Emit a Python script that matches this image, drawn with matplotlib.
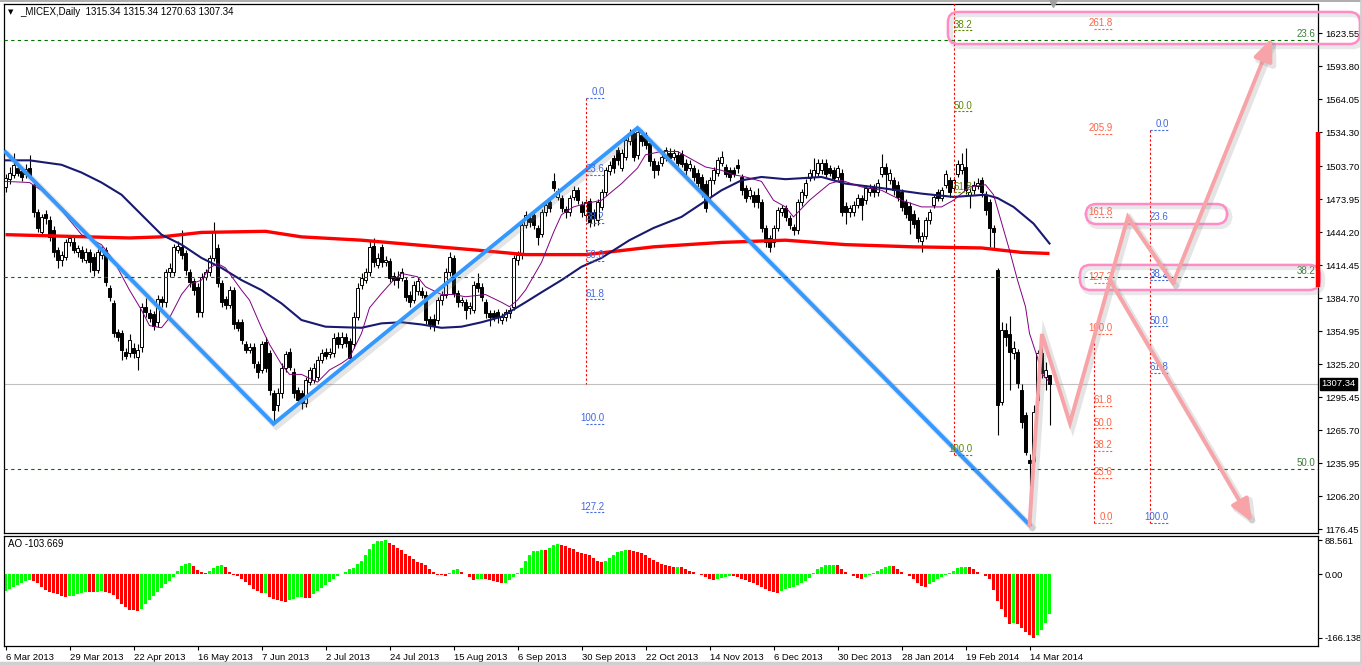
import numpy as np
import matplotlib.pyplot as plt
import matplotlib.patheffects as pe
from matplotlib.patches import FancyBboxPatch
from matplotlib.lines import Line2D
from matplotlib.transforms import blended_transform_factory

plt.rcParams['font.family'] = ['Liberation Sans', 'DejaVu Sans']

# ---- daily candles, _MICEX, 6 Mar 2013 .. 21 Mar 2014 ----
opens = [1485, 1492, 1496, 1502, 1499, 1497, 1502, 1487, 1462, 1444,
         1461, 1455, 1446, 1428, 1419, 1422, 1435, 1435, 1426, 1428,
         1419, 1426, 1422, 1410, 1424, 1428, 1394, 1380, 1354, 1353,
         1336, 1335, 1340, 1332, 1341, 1377, 1371, 1370, 1363, 1384,
         1381, 1408, 1408, 1428, 1431, 1425, 1408, 1400, 1395, 1372,
         1404, 1408, 1421, 1430, 1398, 1384, 1379, 1392, 1363, 1363,
         1343, 1338, 1341, 1325, 1320, 1345, 1335, 1299, 1288, 1299,
         1322, 1336, 1318, 1302, 1299, 1290, 1309, 1311, 1314, 1329,
         1336, 1334, 1335, 1350, 1343, 1350, 1346, 1343, 1368, 1397,
         1401, 1408, 1432, 1415, 1431, 1417, 1418, 1405, 1404, 1403,
         1401, 1388, 1383, 1391, 1391, 1388, 1366, 1366, 1365, 1383,
         1388, 1408, 1421, 1389, 1381, 1381, 1376, 1374, 1398, 1395,
         1381, 1371, 1371, 1372, 1365, 1368, 1371, 1377, 1419, 1424,
         1451, 1457, 1460, 1448, 1443, 1462, 1471, 1490, 1476, 1475,
         1465, 1462, 1476, 1482, 1469, 1460, 1472, 1462, 1455, 1467,
         1480, 1499, 1511, 1518, 1502, 1512, 1526, 1534, 1514, 1532,
         1532, 1525, 1508, 1505, 1507, 1511, 1516, 1512, 1514, 1515,
         1507, 1502, 1502, 1498, 1494, 1488, 1476, 1491, 1498, 1507,
         1503, 1500, 1500, 1505, 1494, 1484, 1477, 1478, 1478, 1471,
         1448, 1439, 1435, 1448, 1462, 1466, 1457, 1449, 1446, 1471,
         1478, 1493, 1494, 1498, 1500, 1507, 1502, 1500, 1494, 1498,
         1468, 1462, 1462, 1469, 1475, 1473, 1480, 1484, 1480, 1497,
         1503, 1491, 1491, 1487, 1480, 1471, 1468, 1461, 1455, 1436,
         1441, 1455, 1469, 1480, 1475, 1487, 1491, 1484, 1497, 1500,
         1503, 1478, 1482, 1486, 1491, 1478, 1471, 1448, 1410, 1291,
         1356, 1352, 1335, 1336, 1302, 1279, 1239, 1238, 1293, 1335,
         1314, 1315.34]
highs = [1497, 1503, 1516, 1507, 1503, 1506, 1514, 1490, 1465, 1461,
         1464, 1459, 1450, 1431, 1427, 1438, 1442, 1440, 1433, 1432,
         1430, 1429, 1425, 1429, 1432, 1431, 1397, 1383, 1357, 1356,
         1340, 1352, 1344, 1343, 1380, 1385, 1375, 1373, 1388, 1387,
         1411, 1416, 1434, 1436, 1446, 1428, 1411, 1403, 1398, 1407,
         1411, 1424, 1453, 1434, 1401, 1387, 1396, 1395, 1366, 1366,
         1346, 1344, 1344, 1328, 1346, 1350, 1338, 1302, 1304, 1326,
         1337, 1340, 1322, 1305, 1302, 1314, 1323, 1326, 1333, 1339,
         1340, 1340, 1353, 1354, 1354, 1353, 1349, 1372, 1398, 1407,
         1412, 1437, 1439, 1425, 1434, 1423, 1421, 1408, 1409, 1412,
         1404, 1391, 1400, 1404, 1395, 1391, 1369, 1370, 1386, 1391,
         1412, 1426, 1424, 1392, 1386, 1384, 1381, 1400, 1407, 1398,
         1384, 1374, 1374, 1375, 1371, 1375, 1377, 1424, 1427, 1454,
         1463, 1461, 1463, 1451, 1465, 1472, 1475, 1498, 1484, 1478,
         1468, 1478, 1486, 1485, 1472, 1474, 1475, 1465, 1474, 1483,
         1503, 1508, 1514, 1521, 1519, 1530, 1537, 1537, 1539, 1536,
         1535, 1528, 1511, 1508, 1515, 1521, 1520, 1519, 1517, 1518,
         1510, 1509, 1505, 1501, 1497, 1491, 1494, 1503, 1512, 1517,
         1506, 1503, 1503, 1510, 1497, 1487, 1485, 1481, 1484, 1474,
         1451, 1442, 1451, 1467, 1469, 1469, 1460, 1452, 1474, 1483,
         1492, 1501, 1511, 1510, 1510, 1510, 1505, 1503, 1505, 1501,
         1471, 1469, 1472, 1479, 1478, 1487, 1488, 1488, 1492, 1515,
         1507, 1501, 1494, 1490, 1483, 1474, 1471, 1464, 1458, 1444,
         1458, 1465, 1479, 1483, 1485, 1500, 1494, 1494, 1509, 1516,
         1520, 1484, 1490, 1493, 1494, 1481, 1474, 1451, 1412, 1363,
         1362, 1369, 1346, 1339, 1307, 1282, 1244, 1288, 1338, 1345,
         1327, 1315.34]
lows = [1480, 1488, 1493, 1495, 1490, 1493, 1492, 1458, 1444, 1441,
        1452, 1436, 1422, 1412, 1414, 1419, 1432, 1425, 1422, 1417,
        1416, 1408, 1405, 1407, 1420, 1396, 1382, 1350, 1346, 1329,
        1330, 1332, 1331, 1320, 1336, 1368, 1363, 1356, 1359, 1377,
        1377, 1404, 1405, 1425, 1420, 1406, 1395, 1388, 1368, 1368,
        1401, 1405, 1418, 1395, 1377, 1375, 1376, 1357, 1355, 1343,
        1335, 1335, 1322, 1313, 1317, 1318, 1297, 1271, 1283, 1295,
        1318, 1320, 1295, 1289, 1285, 1287, 1306, 1308, 1311, 1326,
        1330, 1331, 1332, 1340, 1340, 1341, 1327, 1340, 1365, 1393,
        1398, 1405, 1413, 1412, 1413, 1414, 1399, 1397, 1394, 1400,
        1382, 1377, 1380, 1388, 1385, 1361, 1357, 1355, 1361, 1379,
        1385, 1405, 1386, 1377, 1378, 1366, 1370, 1371, 1390, 1382,
        1367, 1360, 1364, 1362, 1361, 1364, 1367, 1374, 1415, 1420,
        1448, 1449, 1447, 1433, 1440, 1459, 1462, 1481, 1473, 1462,
        1457, 1459, 1473, 1470, 1458, 1454, 1449, 1450, 1451, 1464,
        1477, 1496, 1498, 1505, 1499, 1509, 1523, 1508, 1510, 1522,
        1519, 1504, 1493, 1496, 1504, 1508, 1508, 1509, 1504, 1503,
        1496, 1499, 1490, 1485, 1476, 1462, 1472, 1488, 1495, 1504,
        1494, 1490, 1494, 1498, 1478, 1471, 1474, 1467, 1466, 1444,
        1431, 1426, 1431, 1445, 1459, 1454, 1447, 1442, 1443, 1468,
        1475, 1490, 1491, 1495, 1497, 1494, 1495, 1490, 1491, 1459,
        1452, 1458, 1459, 1466, 1455, 1470, 1477, 1476, 1477, 1494,
        1480, 1488, 1478, 1472, 1463, 1457, 1443, 1448, 1435, 1426,
        1438, 1452, 1466, 1472, 1472, 1484, 1476, 1481, 1494, 1497,
        1479, 1466, 1479, 1483, 1476, 1460, 1431, 1428, 1261, 1288,
        1342, 1302, 1330, 1304, 1268, 1243, 1180, 1235, 1289, 1313,
        1302, 1270.63]
closes = [1493, 1498, 1505, 1498, 1494, 1501, 1496, 1462, 1448, 1458,
          1457, 1440, 1426, 1419, 1424, 1435, 1439, 1428, 1430, 1421,
          1426, 1417, 1410, 1426, 1428, 1399, 1386, 1353, 1350, 1338,
          1333, 1347, 1335, 1338, 1377, 1372, 1367, 1360, 1384, 1381,
          1408, 1412, 1431, 1432, 1424, 1410, 1399, 1392, 1372, 1404,
          1408, 1421, 1444, 1398, 1381, 1379, 1392, 1361, 1358, 1347,
          1338, 1341, 1326, 1318, 1343, 1322, 1302, 1284, 1299, 1322,
          1334, 1323, 1299, 1293, 1290, 1311, 1320, 1322, 1329, 1335,
          1333, 1336, 1349, 1343, 1350, 1344, 1331, 1368, 1394, 1403,
          1408, 1431, 1417, 1421, 1417, 1419, 1403, 1401, 1401, 1408,
          1386, 1381, 1397, 1400, 1388, 1365, 1361, 1360, 1383, 1388,
          1408, 1422, 1389, 1381, 1383, 1374, 1378, 1397, 1394, 1386,
          1371, 1368, 1368, 1368, 1368, 1372, 1374, 1421, 1424, 1451,
          1460, 1453, 1451, 1440, 1462, 1469, 1466, 1484, 1481, 1466,
          1462, 1475, 1482, 1473, 1462, 1471, 1453, 1457, 1471, 1480,
          1500, 1505, 1502, 1509, 1516, 1527, 1534, 1512, 1535, 1526,
          1523, 1508, 1500, 1500, 1512, 1518, 1511, 1516, 1507, 1506,
          1500, 1506, 1494, 1489, 1480, 1466, 1491, 1500, 1509, 1512,
          1497, 1494, 1497, 1502, 1482, 1475, 1482, 1471, 1471, 1448,
          1435, 1431, 1448, 1464, 1466, 1458, 1451, 1446, 1471, 1480,
          1489, 1498, 1500, 1507, 1507, 1497, 1498, 1493, 1502, 1462,
          1462, 1466, 1469, 1475, 1469, 1484, 1484, 1480, 1489, 1503,
          1497, 1498, 1482, 1476, 1467, 1461, 1455, 1452, 1439, 1441,
          1455, 1462, 1476, 1475, 1482, 1497, 1480, 1491, 1506, 1506,
          1482, 1480, 1487, 1489, 1480, 1464, 1448, 1444, 1288, 1356,
          1350, 1336, 1340, 1308, 1273, 1246, 1236, 1282, 1335, 1317,
          1320, 1307.34]

# Awesome Oscillator, one value per candle
ao_values = [-43, -38, -33, -28, -23, -19, -16, -17, -23, -34,
             -42, -47, -50, -53, -57, -59, -58, -56, -53, -49,
             -47, -47.5, -48, -46, -45, -46, -49, -55, -65, -77,
             -87, -94, -95, -97, -90, -77, -67, -57, -47, -36,
             -26, -17, -7, 8, 21, 27, 28, 21, 10, 6,
             3, 7, 16, 22, 23, 17, 6, -2, -5, -12,
             -20, -28, -38, -45, -50, -49, -60, -65, -68, -69,
             -72, -68, -65, -61, -59, -62, -63, -53, -45, -36,
             -28, -20, -12, -5, 1, 6, 12, 16, 26, 35,
             49, 64, 78, 85, 87, 88.561, 82, 75, 68, 63,
             53, 46, 38, 32, 28, 23, 14, 6, -2, -3,
             -5, 2, 10, 12, 6, -1, -7, -16, -13, -12,
             -14, -16, -18, -21, -24, -23, -16, -7, 2, 16,
             35, 50, 59, 61, 63, 62, 68, 75, 78, 75,
             73, 68, 64, 58, 55, 52, 49, 42, 35, 30,
             35, 42, 50, 58, 61, 63, 62, 59, 58, 55,
             50, 43, 37, 30, 26, 23, 21, 19, 19.5, 17,
             12, 8, 5, 1, -3, -7, -14, -16, -12, -10,
             -7, -5, -5.5, -7, -12, -16, -20, -23, -28, -34,
             -39, -44, -47, -49, -45, -40, -37, -34, -29, -24,
             -17, -10, 2, 13, 19, 23, 24, 24.5, 23, 14,
             6, 1, -5, -10, -14, -7, -3, 2, 8, 14,
             19, 22, 21, 12, 6, 1, -5, -14, -23, -32,
             -34, -26, -20, -14, -7, -3, 2, 8, 16, 19,
             19.5, 17, 12, 6, -1, -5, -12, -42, -69, -92,
             -112, -129, -127, -130, -141, -152, -160, -166.138, -158, -145,
             -127, -103.669]

date_labels = ['6 Mar 2013', '29 Mar 2013', '22 Apr 2013', '16 May 2013', '7 Jun 2013',
               '2 Jul 2013', '24 Jul 2013', '15 Aug 2013', '6 Sep 2013', '30 Sep 2013',
               '22 Oct 2013', '14 Nov 2013', '6 Dec 2013', '30 Dec 2013', '28 Jan 2014',
               '19 Feb 2014', '14 Mar 2014']
price_ticks = [1623.55, 1593.80, 1564.05, 1534.30, 1503.70, 1473.95, 1444.20, 1414.45,
               1384.70, 1354.95, 1325.20, 1295.45, 1265.70, 1235.95, 1206.20, 1176.45]
ao_ticks = [88.561, 0.0, -166.138]
ao_tick_labels = ['88.561', '0.00', '-166.138']
last_price = 1307.34

# moving averages (sampled along the curves)
ma_fast_bars = [0, 6, 9, 14, 19, 24, 27, 31, 34, 36, 39, 41, 44, 46, 49, 51, 53, 55, 59, 61,
                64, 66, 69, 71, 74, 78, 81, 84, 86, 89, 91, 94, 97, 99, 103, 105, 109, 112,
                115, 120, 124, 126, 128, 130, 134, 137, 139, 142, 145, 149, 154, 158, 160,
                164, 168, 172, 175, 179, 182, 185, 189, 192, 195, 197, 201, 204, 206, 209,
                214, 219, 224, 229, 234, 237, 241, 245, 247, 251, 253, 255, 256, 258, 259, 261]
ma_fast_vals = [1490, 1489, 1482, 1464, 1442, 1433, 1419, 1392, 1374, 1360, 1358, 1367, 1388,
                1397, 1401, 1412, 1416, 1412, 1392, 1383, 1358, 1343, 1325, 1316, 1316, 1309,
                1320, 1326, 1331, 1353, 1376, 1389, 1401, 1407, 1404, 1395, 1388, 1388, 1386,
                1388, 1381, 1377, 1383, 1392, 1417, 1444, 1460, 1467, 1470, 1473, 1488, 1502,
                1514, 1517, 1517, 1509, 1503, 1500, 1496, 1494, 1490, 1473, 1467, 1458, 1473,
                1482, 1488, 1491, 1485, 1482, 1473, 1467, 1467, 1473, 1485, 1487, 1478, 1428,
                1401, 1377, 1353, 1331, 1317, 1309]
ma_mid_bars = [0, 6, 14, 19, 24, 29, 34, 39, 44, 49, 54, 59, 64, 69, 74, 80, 89, 94, 99, 104,
               109, 114, 119, 124, 130, 134, 139, 144, 149, 156, 162, 169, 174, 179, 184,
               189, 195, 204, 210, 219, 229, 237, 245, 248, 252, 257, 261]
ma_mid_vals = [1509, 1509, 1505, 1498, 1489, 1478, 1460, 1442, 1433, 1421, 1412, 1401, 1392,
               1380, 1365, 1359, 1358, 1362, 1363, 1361, 1358, 1359, 1363, 1368, 1381, 1390,
               1401, 1413, 1421, 1437, 1448, 1458, 1470, 1482, 1491, 1494, 1492, 1494, 1488,
               1484, 1479, 1476, 1478, 1475, 1467, 1452, 1434]
ma_slow_bars = [0, 31, 39, 49, 65, 74, 89, 105, 118, 130, 145, 150, 162, 179, 195, 210, 227,
                244, 254, 261]
ma_slow_vals = [1442, 1439, 1440, 1444, 1445, 1440, 1437, 1432, 1428, 1424, 1424, 1426, 1431,
                1435, 1437, 1433, 1431, 1430, 1426, 1425]

# drawn objects: blue zigzag, pink wave projection, zones, Fibonacci tools
zigzag_bars = [0, 67, 158, 256]
zigzag_vals = [1516.5, 1271.4, 1538.2, 1180.3]
wave_bars = [256, 259.1, 266.1, 280.6, 291.9, 316.6]
wave_vals = [1180.3, 1352.4, 1272.1, 1458.0, 1398.4, 1619.3]
alt_bars = [276.1, 311.6]
alt_vals = [1401.1, 1183.0]
zone_bars = [(235.6, 338.6), (270.1, 305.4), (268.6, 328.6)]
zone_vals = [(1613.9, 1642.8), (1451.6, 1469.6), (1392.1, 1414.7)]

fib_a_bar, fib_a_p0, fib_a_p100, fib_a_end = 145, 1565.1, 1271.4, 1307.0
fib_a_levels = [0.0, 23.6, 38.2, 50.0, 61.8, 100.0, 127.2]
fib_b_bar, fib_b_p0, fib_b_p100 = 237, 1862.8, 1243.4
fib_b_levels = [38.2, 50.0, 61.8, 100.0]
fib_c_p0, fib_c_p100 = 1963.2, 498.2
fib_c_levels = [23.6, 38.2, 50.0]
fib_d_bar, fib_d_p0, fib_d_p100 = 272, 1182.2, 1352.4
fib_d_levels = [0.0, 23.6, 38.2, 50.0, 61.8, 100.0, 127.2, 161.8, 205.9, 261.8]
fib_e_bar, fib_e_p0, fib_e_p100 = 286, 1536.4, 1182.2
fib_e_levels = [0.0, 23.6, 38.2, 50.0, 61.8, 100.0]

# ------------------------------------------------------------------
W, H = 1362, 665
fig = plt.figure(figsize=(W / 100, H / 100), dpi=100)
fig.patch.set_facecolor('white')


def fx(px):
    return px / W


def fy(py):
    return 1 - py / H


ax = fig.add_axes([fx(4), fy(533), fx(1318) - fx(4), fy(4) - fy(533)])
ax2 = fig.add_axes([fx(4), fy(646), fx(1318) - fx(4), fy(536) - fy(646)])
xmin, xmax = -0.375, 328.125

o = np.array(opens, float)
h = np.array(highs, float)
l = np.array(lows, float)
c = np.array(closes, float)
x = np.arange(len(c))
up = c >= o

# candles
ax.vlines(x, l, h, color='black', lw=0.8, zorder=3)
ax.bar(x, np.abs(c - o), bottom=np.minimum(o, c), width=0.62,
       color=np.where(up, 'white', 'black'), edgecolor='black', lw=0.7, zorder=4)

# moving averages
ax.plot(ma_slow_bars, ma_slow_vals, color='#ff0000', lw=2.4, zorder=5, solid_capstyle='butt')
ax.plot(ma_mid_bars, ma_mid_vals, color='#191970', lw=1.5, zorder=5)
ax.plot(ma_fast_bars, ma_fast_vals, color='#800080', lw=0.7, zorder=5)

ax.axhline(last_price, color='#c0c0c0', lw=0.8, zorder=2)

shadow = [pe.SimpleLineShadow(offset=(2, -2), shadow_color='#888888', alpha=0.22,
                              linewidth=4.5), pe.Normal()]

# blue zigzag
ax.plot(zigzag_bars, zigzag_vals, color='#3399ff', lw=2.8, zorder=6,
        solid_joinstyle='miter', path_effects=shadow)


# Fibonacci helpers
def fib_price(p0, p100, lv):
    return p0 + (p100 - p0) * lv / 100.0


def draw_fib(bar, p0, p100, levels, color, v_top, v_bot):
    ax.plot([bar, bar], [v_top, v_bot], color='red', lw=0.8, ls=(0, (2, 2)), zorder=6)
    for lv in levels:
        p = fib_price(p0, p100, lv)
        ax.plot([bar, bar + 4.75], [p, p], color=color, lw=0.8, ls=(0, (2, 1.5)), zorder=7)
        ax.annotate('%.1f' % lv, (bar + 4.75, p), xytext=(0, 0.6), textcoords='offset points',
                    ha='right', va='bottom', color=color, fontsize=7, zorder=8)


draw_fib(fib_a_bar, fib_a_p0, fib_a_p100, fib_a_levels, '#4169e1', fib_a_p0, fib_a_end)
draw_fib(fib_b_bar, fib_b_p0, fib_b_p100, fib_b_levels, '#5a8a00', fib_b_p0, fib_b_p100)
draw_fib(fib_d_bar, fib_d_p0, fib_d_p100, fib_d_levels, '#ff6347', fib_d_p0, fib_d_p100)
draw_fib(fib_e_bar, fib_e_p0, fib_e_p100, fib_e_levels, '#4169e1', fib_e_p0, fib_e_p100)

for lv in fib_c_levels:
    p = fib_price(fib_c_p0, fib_c_p100, lv)
    ax.axhline(p, color='#007000', lw=0.8, ls=(0, (3, 3)), zorder=6)
    ax.annotate('%.1f' % lv, (xmax, p), xytext=(-2, 0.6), textcoords='offset points',
                ha='right', va='bottom', color='#3a7d3a', fontsize=7, zorder=8)

# pink zones
pink_box = '#ff8cc6'
for (b0, b1), (v0, v1) in zip(zone_bars, zone_vals):
    box = FancyBboxPatch((b0, v0), b1 - b0, v1 - v0,
                         boxstyle='round,pad=0,rounding_size=2.6', mutation_aspect=3.6,
                         fill=False, ec=pink_box, lw=1.8, zorder=9, clip_on=False)
    box.set_path_effects([pe.SimpleLineShadow(offset=(2, -2), shadow_color='#999999',
                                              alpha=0.22, linewidth=3.5), pe.Normal()])
    ax.add_patch(box)

# pink wave projection
pink = '#f7a3a8'
ax.plot(wave_bars[:-1], wave_vals[:-1], color=pink, lw=2.8, zorder=9,
        solid_joinstyle='miter', path_effects=shadow)
for (xa, ya), (xb, yb) in [((wave_bars[-2], wave_vals[-2]), (wave_bars[-1], wave_vals[-1])),
                           ((alt_bars[0], alt_vals[0]), (alt_bars[1], alt_vals[1]))]:
    ann = ax.annotate('', xy=(xb, yb), xytext=(xa, ya),
                      arrowprops=dict(arrowstyle='-|>,head_length=0.75,head_width=0.32',
                                      color=pink, lw=2.8, mutation_scale=18,
                                      shrinkA=0, shrinkB=0), zorder=9)
    ann.arrow_patch.set_path_effects(shadow)

# right price scale
trans = blended_transform_factory(ax.transAxes, ax.transData)
ax.plot([1.0, 1.0], [1534.5, 1394.8], transform=trans, color='red', lw=3.2,
        solid_capstyle='butt', clip_on=False, zorder=10)
ax.annotate('%.2f' % last_price, (1.0, last_price), xycoords=trans, xytext=(2.5, 0),
            textcoords='offset points', ha='left', va='center', color='white', fontsize=6.8,
            bbox=dict(boxstyle='square,pad=0.12', fc='black', ec='black'), zorder=11,
            annotation_clip=False)

ax.set_xlim(xmin, xmax)
ax.set_ylim(1172.97, 1649.97)
ax.yaxis.tick_right()
ax.set_yticks(price_ticks)
ax.set_yticklabels(['%.2f' % t for t in price_ticks])
ax.set_xticks([])
ax.tick_params(axis='y', direction='out', length=3, width=0.8, labelsize=6.8, pad=2)
for s in ax.spines.values():
    s.set_linewidth(0.9)
    s.set_color('black')

# AO histogram
ao = np.array(ao_values, float)
prev = np.concatenate([[ao[0]], ao[:-1]])
ao_col = np.where(ao >= prev, '#00ff00', '#ff0000')
ax2.bar(np.arange(len(ao)), ao, width=0.7, color=ao_col, lw=0)
ax2.set_xlim(xmin, xmax)
ax2.set_ylim(-187.5, 99)
ax2.yaxis.tick_right()
ax2.set_yticks(ao_ticks)
ax2.set_yticklabels(ao_tick_labels)
ax2.set_xticks(np.arange(0, 16 * len(date_labels), 16))
ax2.set_xticklabels(date_labels, ha='left')
ax2.tick_params(axis='both', direction='out', length=3, width=0.8, labelsize=6.8, pad=2)
for s in ax2.spines.values():
    s.set_linewidth(0.9)
    s.set_color('black')

# header texts
fig.text(fx(8), fy(12), '\u25bc', fontsize=5, family='DejaVu Sans', va='center', ha='left')
fig.text(fx(20), fy(12), '_MICEX,Daily  1315.34 1315.34 1270.63 1307.34',
         fontsize=7, va='center', ha='left')
fig.text(fx(8), fy(544), 'AO -103.669', fontsize=7, va='center', ha='left')

# window frame bits
fig.add_artist(Line2D([fx(1053)], [fy(3)], marker='v', color='#a0a0a0', markersize=6,
                      transform=fig.transFigure))
fig.add_artist(Line2D([0, 1], [fy(0.5), fy(0.5)], color='#a0a0a0', lw=1.2,
                      transform=fig.transFigure))
fig.add_artist(Line2D([fx(1360.5), fx(1360.5)], [0, 1], color='#d0d0d0', lw=2,
                      transform=fig.transFigure))
fig.add_artist(Line2D([0, 1], [fy(663), fy(663)], color='#d0d0d0', lw=2.5,
                      transform=fig.transFigure))

fig.savefig('out.png', dpi=100)
